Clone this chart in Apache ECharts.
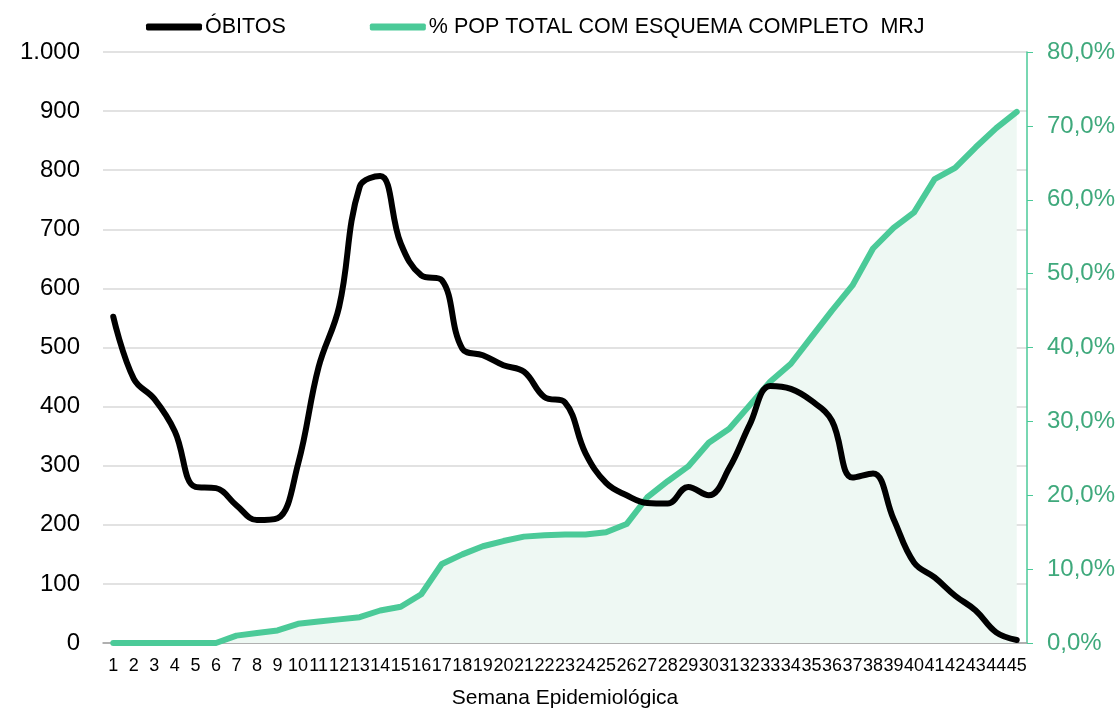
<!DOCTYPE html>
<html>
<head>
<meta charset="utf-8">
<script src="https://cdn.jsdelivr.net/npm/echarts@6/dist/echarts.min.js"></script>
<style>
  html, body { margin: 0; padding: 0; background: #fff; }
  #chart { width: 1119px; height: 710px; }
</style>
</head>
<body>
<div id="chart"></div>
<script>
// semanas epidemiológicas 1..45
var semanas = [];
for (var s = 1; s <= 45; s++) semanas.push(String(s));

var obitos = [552, 447, 413, 358, 264, 262, 233, 208, 211, 303,
              467, 569, 772, 790, 676, 622, 614, 498, 487, 470,
              459, 416, 407, 321, 271, 250, 237, 236, 264, 250,
              296, 370, 435, 430, 410, 376, 280, 287, 210, 136,
              111, 80, 55, 18, 5];

var esquemaCompleto = [0, 0, 0, 0, 0, 0, 1.0, 1.35, 1.7, 2.6,
                       2.9, 3.2, 3.5, 4.4, 4.9, 6.6, 10.7, 12.0, 13.1, 13.8,
                       14.4, 14.6, 14.7, 14.7, 15.0, 16.1, 19.7, 21.9, 23.9, 27.1,
                       29.0, 32.2, 35.4, 37.8, 41.4, 45.0, 48.4, 53.4, 56.2, 58.3,
                       62.8, 64.3, 67.1, 69.7, 71.9];

var verde = '#4bca98';
var verdeTexto = '#3fa97c';
var fonte = '"Liberation Sans", Arial, sans-serif';

var myChart = echarts.init(document.getElementById('chart'));
var option = {
  animation: false,
  textStyle: { fontFamily: fonte },
  legend: {
    left: 146,
    top: 16,
    padding: 0,
    itemWidth: 56,
    itemHeight: 7,
    itemGap: 84,
    textStyle: { fontSize: 21.5, color: '#000', fontFamily: fonte, padding: [0, 0, 0, -2] },
    data: [
      { name: 'ÓBITOS', icon: 'roundRect', itemStyle: { color: '#000' } },
      { name: '% POP TOTAL COM ESQUEMA COMPLETO  MRJ', icon: 'roundRect', itemStyle: { color: verde } }
    ]
  },
  grid: { left: 103, right: 92, top: 52, bottom: 67, containLabel: false, outerBoundsMode: 'none' },
  xAxis: [
    {
      type: 'category',
      data: semanas,
      boundaryGap: true,
      name: 'Semana Epidemiológica',
      nameLocation: 'middle',
      nameGap: 45,
      nameTextStyle: { fontSize: 21, color: '#000', fontFamily: fonte },
      axisLine: { lineStyle: { color: '#a0a0a0', width: 1.5 } },
      axisTick: { alignWithLabel: true, length: 6, lineStyle: { color: '#a0a0a0' } },
      axisLabel: { interval: 0, fontSize: 18, color: '#000', margin: 14, hideOverlap: false }
    },
    {
      // ticks para dentro, para o efeito de cruz do eixo
      type: 'category',
      data: semanas,
      position: 'bottom',
      boundaryGap: true,
      axisLine: { show: false },
      axisTick: { inside: true, alignWithLabel: true, length: 6, lineStyle: { color: '#a0a0a0' } },
      axisLabel: { show: false }
    }
  ],
  yAxis: [
    {
      type: 'value',
      min: 0,
      max: 1000,
      interval: 100,
      axisLine: { show: false },
      axisTick: { show: false },
      splitLine: { lineStyle: { color: '#d9d9d9', width: 1.5 } },
      axisLabel: {
        fontSize: 24,
        color: '#000',
        margin: 23,
        formatter: function (v) {
          return v >= 1000 ? Math.floor(v / 1000) + '.' + String(v % 1000).padStart(3, '0') : String(v);
        }
      }
    },
    {
      type: 'value',
      min: 0,
      max: 80,
      interval: 10,
      position: 'right',
      axisLine: { show: true, lineStyle: { color: verde, width: 1.5 } },
      axisTick: { show: true, length: 6, lineStyle: { color: verde } },
      splitLine: { show: false },
      axisLabel: {
        fontSize: 24,
        color: verdeTexto,
        margin: 20,
        formatter: function (v) { return v.toFixed(1).replace('.', ',') + '%'; }
      }
    }
  ],
  series: [
    {
      name: '% POP TOTAL COM ESQUEMA COMPLETO  MRJ',
      type: 'line',
      yAxisIndex: 1,
      data: esquemaCompleto,
      symbol: 'none',
      smooth: false,
      lineStyle: { color: verde, width: 6, cap: 'round', join: 'round' },
      itemStyle: { color: verde },
      areaStyle: { color: '#eef8f3', opacity: 1 },
      z: 2
    },
    {
      name: 'ÓBITOS',
      type: 'line',
      yAxisIndex: 0,
      data: obitos,
      symbol: 'none',
      smooth: 0.4,
      lineStyle: { color: '#000', width: 6, cap: 'round', join: 'round' },
      itemStyle: { color: '#000' },
      z: 3
    }
  ]
};
myChart.setOption(option);
</script>
</body>
</html>
